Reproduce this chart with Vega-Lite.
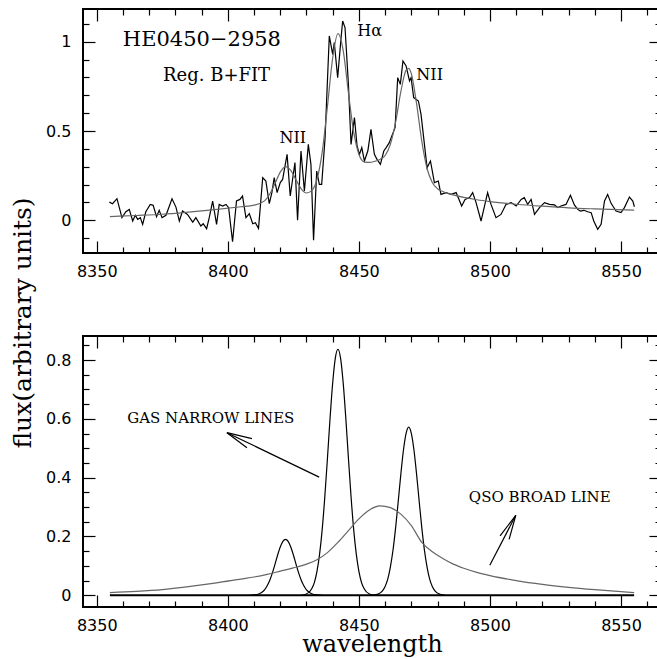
{
  "$schema": "https://vega.github.io/schema/vega-lite/v6.json",
  "padding": {"left": 8, "top": 7, "right": 0, "bottom": 0},
  "background": "white",
  "spacing": 83,
  "bounds": "flush",
  "config": {
    "view": {"stroke": "black", "strokeWidth": 2},
    "axis": {
      "domain": false, "grid": false, "tickColor": "black", "tickWidth": 1.2,
      "labelColor": "black", "labelFont": "DejaVu Sans", "labelFontSize": 16,
      "labelFlush": false, "labelOverlap": false, "labelBound": false,
      "titleFont": "DejaVu Serif", "titleFontWeight": "normal", "titleFontSize": 25, "titleColor": "black"
    },
    "text": {"font": "DejaVu Serif", "color": "black"}
  },
  "datasets": {
    "spectrum": [
      {"x":8354.8,"y":0.102},{"x":8356.0,"y":0.093},{"x":8357.7,"y":0.121},{"x":8359.6,"y":0.015},{"x":8361.1,"y":0.048},
      {"x":8362.4,"y":0.061},{"x":8363.7,"y":-0.004},{"x":8364.7,"y":0.028},{"x":8365.6,"y":0.005},{"x":8366.6,"y":0.015},
      {"x":8367.5,"y":-0.023},{"x":8368.7,"y":0.048},{"x":8370.4,"y":0.089},{"x":8371.5,"y":0.084},{"x":8372.8,"y":0.020},
      {"x":8373.8,"y":0.056},{"x":8374.9,"y":0.015},{"x":8376.4,"y":0.028},{"x":8378.7,"y":0.121},{"x":8380.2,"y":0.074},
      {"x":8381.5,"y":-0.004},{"x":8382.7,"y":0.052},{"x":8384.6,"y":0.033},{"x":8386.6,"y":-0.010},{"x":8387.8,"y":0.015},
      {"x":8389.7,"y":-0.032},{"x":8390.6,"y":-0.019},{"x":8391.9,"y":-0.047},{"x":8392.9,"y":0.015},{"x":8394.2,"y":0.108},
      {"x":8395.7,"y":-0.023},{"x":8396.7,"y":0.089},{"x":8398.0,"y":0.080},{"x":8399.3,"y":0.089},{"x":8400.3,"y":0.071},
      {"x":8401.8,"y":-0.120},{"x":8403.3,"y":0.108},{"x":8404.6,"y":0.117},{"x":8405.6,"y":0.136},{"x":8406.9,"y":0.015},
      {"x":8408.2,"y":0.037},{"x":8409.5,"y":-0.019},{"x":8410.5,"y":-0.013},{"x":8411.7,"y":-0.045},{"x":8413.3,"y":0.239},
      {"x":8414.5,"y":0.220},{"x":8415.8,"y":0.093},{"x":8416.8,"y":0.155},{"x":8417.7,"y":0.239},{"x":8418.8,"y":0.155},
      {"x":8420.0,"y":0.211},{"x":8420.9,"y":0.229},{"x":8422.6,"y":0.369},{"x":8423.8,"y":0.136},{"x":8425.6,"y":0.323},
      {"x":8426.6,"y":0.000},{"x":8427.9,"y":0.388},{"x":8429.2,"y":0.164},{"x":8430.7,"y":0.425},{"x":8431.7,"y":0.313},
      {"x":8432.7,"y":-0.112},{"x":8433.9,"y":0.276},{"x":8434.9,"y":0.201},{"x":8435.8,"y":0.201},{"x":8437.1,"y":0.463},
      {"x":8438.7,"y":1.032},{"x":8440.0,"y":0.929},{"x":8440.6,"y":0.995},{"x":8441.9,"y":0.799},{"x":8443.2,"y":1.023},
      {"x":8443.8,"y":1.116},{"x":8444.7,"y":1.079},{"x":8446.0,"y":0.761},{"x":8447.0,"y":0.425},{"x":8448.3,"y":0.575},
      {"x":8449.3,"y":0.416},{"x":8450.2,"y":0.369},{"x":8451.1,"y":0.407},{"x":8452.1,"y":0.332},{"x":8453.4,"y":0.388},
      {"x":8454.6,"y":0.509},{"x":8455.9,"y":0.369},{"x":8456.9,"y":0.341},{"x":8458.2,"y":0.313},{"x":8459.5,"y":0.388},
      {"x":8460.4,"y":0.407},{"x":8461.6,"y":0.435},{"x":8462.3,"y":0.463},{"x":8463.8,"y":0.519},{"x":8464.8,"y":0.799},
      {"x":8465.8,"y":0.761},{"x":8466.8,"y":0.892},{"x":8468.0,"y":0.864},{"x":8469.3,"y":0.780},{"x":8469.9,"y":0.799},
      {"x":8470.9,"y":0.687},{"x":8472.7,"y":0.668},{"x":8473.7,"y":0.593},{"x":8476.0,"y":0.295},{"x":8477.3,"y":0.332},
      {"x":8478.8,"y":0.211},{"x":8480.3,"y":0.220},{"x":8481.3,"y":0.145},{"x":8483.2,"y":0.155},{"x":8485.2,"y":0.145},
      {"x":8487.1,"y":0.155},{"x":8489.2,"y":0.080},{"x":8490.5,"y":0.117},{"x":8492.2,"y":0.127},{"x":8493.4,"y":0.155},
      {"x":8494.7,"y":0.099},{"x":8496.6,"y":-0.004},{"x":8499.1,"y":0.155},{"x":8500.4,"y":0.089},{"x":8502.3,"y":0.015},
      {"x":8504.2,"y":0.033},{"x":8506.1,"y":0.089},{"x":8508.1,"y":0.099},{"x":8510.0,"y":0.080},{"x":8511.9,"y":0.117},
      {"x":8513.1,"y":0.127},{"x":8514.4,"y":0.089},{"x":8515.7,"y":0.117},{"x":8517.0,"y":0.033},{"x":8518.9,"y":0.071},
      {"x":8520.8,"y":0.099},{"x":8522.7,"y":0.089},{"x":8524.6,"y":0.086},{"x":8525.9,"y":0.071},{"x":8527.1,"y":0.080},
      {"x":8529.0,"y":0.089},{"x":8530.7,"y":0.140},{"x":8532.2,"y":0.086},{"x":8533.5,"y":0.061},{"x":8534.5,"y":0.052},
      {"x":8535.8,"y":0.056},{"x":8537.3,"y":0.048},{"x":8538.6,"y":0.043},{"x":8539.6,"y":-0.004},{"x":8541.1,"y":-0.050},
      {"x":8542.4,"y":-0.022},{"x":8543.7,"y":0.108},{"x":8544.9,"y":0.145},{"x":8546.2,"y":0.095},{"x":8548.1,"y":0.052},
      {"x":8550.0,"y":0.043},{"x":8551.3,"y":0.071},{"x":8553.2,"y":0.130},{"x":8554.5,"y":0.108},{"x":8555.1,"y":0.076}
    ],
    "fit": [
      {"x":8355,"y":0.021},{"x":8365,"y":0.027},{"x":8375,"y":0.034},{"x":8385,"y":0.046},{"x":8395,"y":0.060},
      {"x":8405,"y":0.076},{"x":8410,"y":0.085},{"x":8414,"y":0.109},{"x":8416,"y":0.147},{"x":8418,"y":0.206},
      {"x":8420,"y":0.270},{"x":8422,"y":0.301},{"x":8424,"y":0.279},{"x":8426,"y":0.227},{"x":8428,"y":0.176},
      {"x":8430,"y":0.153},{"x":8432,"y":0.166},{"x":8434,"y":0.229},{"x":8436,"y":0.382},{"x":8438,"y":0.638},
      {"x":8440,"y":0.910},{"x":8442,"y":1.045},{"x":8444,"y":0.951},{"x":8446,"y":0.714},{"x":8448,"y":0.495},
      {"x":8450,"y":0.370},{"x":8452,"y":0.327},{"x":8454,"y":0.324},{"x":8456,"y":0.330},{"x":8458,"y":0.341},
      {"x":8460,"y":0.363},{"x":8462,"y":0.425},{"x":8464,"y":0.549},{"x":8466,"y":0.720},{"x":8468,"y":0.841},
      {"x":8469,"y":0.851},{"x":8470,"y":0.821},{"x":8472,"y":0.653},{"x":8474,"y":0.442},{"x":8476,"y":0.290},
      {"x":8478,"y":0.212},{"x":8480,"y":0.177},{"x":8482,"y":0.161},{"x":8484,"y":0.150},{"x":8486,"y":0.142},
      {"x":8490,"y":0.128},{"x":8495,"y":0.115},{"x":8500,"y":0.105},{"x":8510,"y":0.090},{"x":8520,"y":0.079},
      {"x":8530,"y":0.070},{"x":8540,"y":0.064},{"x":8555,"y":0.057}
    ],
    "broad": [
      {"x":8355,"y":0.009},{"x":8365,"y":0.013},{"x":8375,"y":0.019},{"x":8385,"y":0.029},{"x":8395,"y":0.041},
      {"x":8405,"y":0.055},{"x":8410,"y":0.062},{"x":8415,"y":0.071},{"x":8420,"y":0.082},{"x":8425,"y":0.093},
      {"x":8430,"y":0.106},{"x":8434,"y":0.121},{"x":8438,"y":0.145},{"x":8442,"y":0.180},{"x":8446,"y":0.220},
      {"x":8450,"y":0.260},{"x":8454,"y":0.290},{"x":8458,"y":0.304},{"x":8462,"y":0.298},{"x":8466,"y":0.276},
      {"x":8470,"y":0.237},{"x":8474,"y":0.180},{"x":8478,"y":0.148},{"x":8482,"y":0.125},{"x":8486,"y":0.106},
      {"x":8490,"y":0.092},{"x":8495,"y":0.078},{"x":8500,"y":0.067},{"x":8510,"y":0.050},{"x":8520,"y":0.037},
      {"x":8530,"y":0.027},{"x":8540,"y":0.019},{"x":8555,"y":0.009}
    ],
    "narrow": [
      {"l":"n1","x":8408,"y":0},{"l":"n1","x":8410,"y":0.001},{"l":"n1","x":8412,"y":0.005},{"l":"n1","x":8413,"y":0.010},
      {"l":"n1","x":8414,"y":0.018},{"l":"n1","x":8415,"y":0.032},{"l":"n1","x":8416,"y":0.051},{"l":"n1","x":8417,"y":0.076},
      {"l":"n1","x":8418,"y":0.106},{"l":"n1","x":8419,"y":0.137},{"l":"n1","x":8420,"y":0.164},{"l":"n1","x":8421,"y":0.183},
      {"l":"n1","x":8422,"y":0.190},{"l":"n1","x":8423,"y":0.183},{"l":"n1","x":8424,"y":0.164},{"l":"n1","x":8425,"y":0.137},
      {"l":"n1","x":8426,"y":0.106},{"l":"n1","x":8427,"y":0.076},{"l":"n1","x":8428,"y":0.051},{"l":"n1","x":8429,"y":0.032},
      {"l":"n1","x":8430,"y":0.018},{"l":"n1","x":8431,"y":0.010},{"l":"n1","x":8432,"y":0.005},{"l":"n1","x":8434,"y":0.001},
      {"l":"n1","x":8436,"y":0},
      {"l":"n2","x":8428,"y":0},{"l":"n2","x":8430,"y":0.004},{"l":"n2","x":8432,"y":0.022},{"l":"n2","x":8433,"y":0.043},
      {"l":"n2","x":8434,"y":0.081},{"l":"n2","x":8435,"y":0.140},{"l":"n2","x":8436,"y":0.224},{"l":"n2","x":8437,"y":0.336},
      {"l":"n2","x":8438,"y":0.466},{"l":"n2","x":8439,"y":0.603},{"l":"n2","x":8440,"y":0.723},{"l":"n2","x":8441,"y":0.807},
      {"l":"n2","x":8442,"y":0.837},{"l":"n2","x":8443,"y":0.807},{"l":"n2","x":8444,"y":0.723},{"l":"n2","x":8445,"y":0.603},
      {"l":"n2","x":8446,"y":0.466},{"l":"n2","x":8447,"y":0.336},{"l":"n2","x":8448,"y":0.224},{"l":"n2","x":8449,"y":0.140},
      {"l":"n2","x":8450,"y":0.081},{"l":"n2","x":8451,"y":0.043},{"l":"n2","x":8452,"y":0.022},{"l":"n2","x":8454,"y":0.004},
      {"l":"n2","x":8456,"y":0},
      {"l":"n3","x":8455,"y":0},{"l":"n3","x":8457,"y":0.003},{"l":"n3","x":8459,"y":0.015},{"l":"n3","x":8460,"y":0.030},
      {"l":"n3","x":8461,"y":0.055},{"l":"n3","x":8462,"y":0.096},{"l":"n3","x":8463,"y":0.153},{"l":"n3","x":8464,"y":0.229},
      {"l":"n3","x":8465,"y":0.319},{"l":"n3","x":8466,"y":0.412},{"l":"n3","x":8467,"y":0.494},{"l":"n3","x":8468,"y":0.551},
      {"l":"n3","x":8469,"y":0.572},{"l":"n3","x":8470,"y":0.551},{"l":"n3","x":8471,"y":0.494},{"l":"n3","x":8472,"y":0.412},
      {"l":"n3","x":8473,"y":0.319},{"l":"n3","x":8474,"y":0.229},{"l":"n3","x":8475,"y":0.153},{"l":"n3","x":8476,"y":0.096},
      {"l":"n3","x":8477,"y":0.055},{"l":"n3","x":8478,"y":0.030},{"l":"n3","x":8479,"y":0.015},{"l":"n3","x":8481,"y":0.003},
      {"l":"n3","x":8483,"y":0}
    ],
    "baseline": [{"x":8355,"y":0},{"x":8555,"y":0}],
    "arrows": [
      {"s":"a1","o":0,"x":8434.84,"y":0.402},{"s":"a1","o":1,"x":8399.65,"y":0.553},
      {"s":"a1h","o":0,"x":8409.18,"y":0.533},{"s":"a1h","o":1,"x":8399.65,"y":0.553},{"s":"a1h","o":2,"x":8407.28,"y":0.502},
      {"s":"a2","o":0,"x":8499.94,"y":0.102},{"s":"a2","o":1,"x":8509.85,"y":0.272},
      {"s":"a2h","o":0,"x":8503.86,"y":0.202},{"s":"a2h","o":1,"x":8509.85,"y":0.272},{"s":"a2h","o":2,"x":8507.3,"y":0.190}
    ]
  },
  "vconcat": [
    {
      "width": 578,
      "height": 244,
      "resolve": {"axis": {"x": "independent", "y": "independent"}},
      "layer": [
        {
          "data": {"name": "spectrum"},
          "mark": {"type": "line", "color": "black", "strokeWidth": 1.2},
          "encoding": {
            "x": {"field": "x", "type": "quantitative",
              "scale": {"domain": [8344.74, 8565.25], "nice": false, "zero": false},
              "axis": {"orient": "bottom", "title": null, "format": "d", "ticks": false, "tickSize": 0, "labelPadding": 10,
                "values": [8350,8400,8450,8500,8550]}},
            "y": {"field": "y", "type": "quantitative",
              "scale": {"domain": [-0.183, 1.183], "nice": false, "zero": false},
              "axis": {"orient": "left", "title": null, "format": ".1~f", "ticks": false, "tickSize": 0, "labelPadding": 12,
                "values": [0,0.5,1]}}
          }
        },
        {
          "data": {"name": "fit"},
          "mark": {"type": "line", "color": "#666666", "strokeWidth": 1.2, "interpolate": "monotone"},
          "encoding": {
            "x": {"field": "x", "type": "quantitative",
              "scale": {"domain": [8344.74, 8565.25], "nice": false, "zero": false},
              "axis": {"orient": "top", "title": null, "labels": false, "tickSize": -12,
                "values": [8350,8400,8450,8500,8550]}},
            "y": {"field": "y", "type": "quantitative",
              "scale": {"domain": [-0.183, 1.183], "nice": false, "zero": false},
              "axis": {"orient": "right", "title": null, "labels": false, "tickSize": -12,
                "values": [0,0.5,1]}}
          }
        },
        {
          "data": {"values": [{"t": "HE0450−2958", "x": 8390.1, "y": 1.008}]},
          "mark": {"type": "text", "fontSize": 21, "align": "center", "baseline": "middle"},
          "encoding": {
            "x": {"field": "x", "type": "quantitative", "scale": {"domain": [8344.74, 8565.25], "nice": false, "zero": false},
              "axis": {"orient": "bottom", "title": null, "labels": false, "tickSize": -12,
                "values": [8350,8400,8450,8500,8550]}},
            "y": {"field": "y", "type": "quantitative", "scale": {"domain": [-0.183, 1.183], "nice": false, "zero": false},
              "axis": {"orient": "left", "title": null, "labels": false, "tickSize": -12,
                "values": [0,0.5,1]}},
            "text": {"field": "t"}
          }
        },
        {
          "data": {"values": [{"t": "Reg. B+FIT", "x": 8395.7, "y": 0.808}]},
          "mark": {"type": "text", "fontSize": 18, "align": "center", "baseline": "middle"},
          "encoding": {
            "x": {"field": "x", "type": "quantitative", "scale": {"domain": [8344.74, 8565.25], "nice": false, "zero": false},
              "axis": {"orient": "top", "title": null, "labels": false, "tickSize": -6,
                "values": [8360,8370,8380,8390,8410,8420,8430,8440,8460,8470,8480,8490,8510,8520,8530,8540,8560]}},
            "y": {"field": "y", "type": "quantitative", "scale": {"domain": [-0.183, 1.183], "nice": false, "zero": false},
              "axis": {"orient": "right", "title": null, "labels": false, "tickSize": -6,
                "values": [-0.1,0.1,0.2,0.3,0.4,0.6,0.7,0.8,0.9,1.1]}},
            "text": {"field": "t"}
          }
        },
        {
          "data": {"values": [{"t": "NII", "x": 8424.8, "y": 0.459}, {"t": "NII", "x": 8477.0, "y": 0.814}, {"t": "Hα", "x": 8454.1, "y": 1.06}]},
          "mark": {"type": "text", "fontSize": 16, "align": "center", "baseline": "middle"},
          "encoding": {
            "x": {"field": "x", "type": "quantitative", "scale": {"domain": [8344.74, 8565.25], "nice": false, "zero": false},
              "axis": {"orient": "bottom", "title": null, "labels": false, "tickSize": -6,
                "values": [8360,8370,8380,8390,8410,8420,8430,8440,8460,8470,8480,8490,8510,8520,8530,8540,8560]}},
            "y": {"field": "y", "type": "quantitative", "scale": {"domain": [-0.183, 1.183], "nice": false, "zero": false},
              "axis": {"orient": "left", "title": null, "labels": false, "tickSize": -6,
                "values": [-0.1,0.1,0.2,0.3,0.4,0.6,0.7,0.8,0.9,1.1]}},
            "text": {"field": "t"}
          }
        }
      ]
    },
    {
      "width": 578,
      "height": 271,
      "resolve": {"axis": {"x": "independent", "y": "independent"}},
      "layer": [
        {
          "data": {"name": "narrow"},
          "mark": {"type": "line", "color": "black", "strokeWidth": 1.2, "interpolate": "monotone"},
          "encoding": {
            "x": {"field": "x", "type": "quantitative",
              "scale": {"domain": [8344.74, 8565.25], "nice": false, "zero": false},
              "axis": {"orient": "bottom", "title": "wavelength", "format": "d", "ticks": false, "tickSize": 0, "labelPadding": 10,
                "titleX": 289, "titleY": 44, "titleAlign": "center", "titleBaseline": "alphabetic", "titleFontSize": 24,
                "values": [8350,8400,8450,8500,8550]}},
            "y": {"field": "y", "type": "quantitative",
              "scale": {"domain": [-0.04, 0.882], "nice": false, "zero": false},
              "axis": {"orient": "left", "title": "flux(arbitrary units)", "format": ".1~f", "ticks": false, "tickSize": 0, "labelPadding": 12,
                "titleX": -53, "titleY": -13.5, "titleAngle": 270, "titleAlign": "center", "titleBaseline": "alphabetic",
                "values": [0,0.2,0.4,0.6,0.8]}},
            "detail": {"field": "l"}
          }
        },
        {
          "data": {"name": "broad"},
          "mark": {"type": "line", "color": "#666666", "strokeWidth": 1.2, "interpolate": "monotone"},
          "encoding": {
            "x": {"field": "x", "type": "quantitative",
              "scale": {"domain": [8344.74, 8565.25], "nice": false, "zero": false},
              "axis": {"orient": "top", "title": null, "labels": false, "tickSize": -12,
                "values": [8350,8400,8450,8500,8550]}},
            "y": {"field": "y", "type": "quantitative",
              "scale": {"domain": [-0.04, 0.882], "nice": false, "zero": false},
              "axis": {"orient": "right", "title": null, "labels": false, "tickSize": -12,
                "values": [0,0.2,0.4,0.6,0.8]}}
          }
        },
        {
          "data": {"name": "baseline"},
          "mark": {"type": "line", "color": "black", "strokeWidth": 2.2},
          "encoding": {
            "x": {"field": "x", "type": "quantitative", "scale": {"domain": [8344.74, 8565.25], "nice": false, "zero": false},
              "axis": {"orient": "bottom", "title": null, "labels": false, "tickSize": -12,
                "values": [8350,8400,8450,8500,8550]}},
            "y": {"field": "y", "type": "quantitative", "scale": {"domain": [-0.04, 0.882], "nice": false, "zero": false},
              "axis": {"orient": "left", "title": null, "labels": false, "tickSize": -12,
                "values": [0,0.2,0.4,0.6,0.8]}}
          }
        },
        {
          "data": {"name": "arrows"},
          "mark": {"type": "line", "color": "black", "strokeWidth": 1.2},
          "encoding": {
            "x": {"field": "x", "type": "quantitative", "scale": {"domain": [8344.74, 8565.25], "nice": false, "zero": false},
              "axis": {"orient": "top", "title": null, "labels": false, "tickSize": -6,
                "values": [8360,8370,8380,8390,8410,8420,8430,8440,8460,8470,8480,8490,8510,8520,8530,8540,8560]}},
            "y": {"field": "y", "type": "quantitative", "scale": {"domain": [-0.04, 0.882], "nice": false, "zero": false},
              "axis": {"orient": "right", "title": null, "labels": false, "tickSize": -6,
                "values": [0.05,0.1,0.15,0.25,0.3,0.35,0.45,0.5,0.55,0.65,0.7,0.75,0.85]}},
            "detail": {"field": "s"},
            "order": {"field": "o"}
          }
        },
        {
          "data": {"values": [{"t": "GAS NARROW LINES", "x": 8393.5, "y": 0.604}, {"t": "QSO BROAD LINE", "x": 8519.0, "y": 0.334}]},
          "mark": {"type": "text", "fontSize": 15, "align": "center", "baseline": "middle"},
          "encoding": {
            "x": {"field": "x", "type": "quantitative", "scale": {"domain": [8344.74, 8565.25], "nice": false, "zero": false},
              "axis": {"orient": "bottom", "title": null, "labels": false, "tickSize": -6,
                "values": [8360,8370,8380,8390,8410,8420,8430,8440,8460,8470,8480,8490,8510,8520,8530,8540,8560]}},
            "y": {"field": "y", "type": "quantitative", "scale": {"domain": [-0.04, 0.882], "nice": false, "zero": false},
              "axis": {"orient": "left", "title": null, "labels": false, "tickSize": -6,
                "values": [0.05,0.1,0.15,0.25,0.3,0.35,0.45,0.5,0.55,0.65,0.7,0.75,0.85]}},
            "text": {"field": "t"}
          }
        }
      ]
    }
  ]
}
